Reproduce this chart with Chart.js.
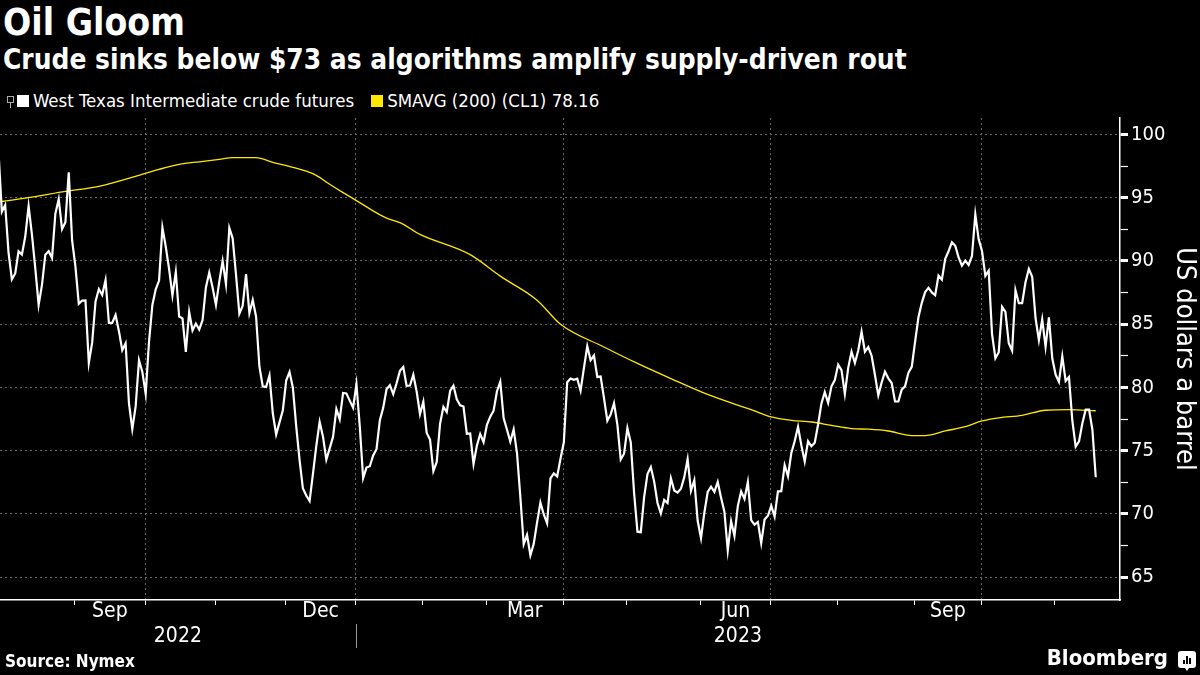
<!DOCTYPE html>
<html lang="en">
<head>
<meta charset="UTF-8" />
<title>Oil Gloom</title>
<script src="https://cdn.jsdelivr.net/npm/chart.js@4.4.0/dist/chart.umd.min.js"></script>
<style>
  body {
    margin: 0;
    width: 1200px;
    height: 675px;
    overflow: hidden;
    position: relative;
    background: #000;
    color: #fff;
    font-family: "DejaVu Sans Condensed", "DejaVu Sans", sans-serif;
  }
  #chart { position: absolute; left: 0; top: 0; }
  .title { position: absolute; left: 3px; top: 2px; font-size: 37px; font-weight: bold; line-height: 42px; }
  .subtitle { position: absolute; left: 3px; top: 44px; font-size: 27.8px; font-weight: bold; line-height: 32px; }
  .legend { position: absolute; left: 7px; top: 90px; font-size: 18.5px; line-height: 22px; display: flex; align-items: center; }
  .legend .pin { width: 5px; height: 5px; border: 1px solid #aaa; margin-right: 3px; position: relative; top: -2px; }
  .legend .pin:after { content: ""; position: absolute; left: 2px; top: 6px; width: 1px; height: 5px; background: #aaa; }
  .legend .box { width: 12px; height: 12px; margin-right: 4px; }
  .legend .item { display: flex; align-items: center; margin-right: 17px; }
  .source { position: absolute; left: 5px; top: 651px; font-size: 17px; font-weight: bold; line-height: 20px; }
  .brand { position: absolute; right: 4px; top: 645px; display: flex; align-items: center; font-size: 22px; font-weight: bold; line-height: 26px; }
  .brand .icon { width: 18px; height: 17px; background: #fff; border-radius: 3px; margin-left: 10px; position: relative; top: 1px; }
  .brand .icon:after { content: ""; position: absolute; left: 7px; bottom: -3px; border-left: 2px solid transparent; border-right: 2px solid transparent; border-top: 3px solid #fff; }
  .brand .icon i { position: absolute; bottom: 4px; width: 2px; background: #000; }
</style>
</head>
<body>
<div class="title">Oil Gloom</div>
<div class="subtitle">Crude sinks below $73 as algorithms amplify supply-driven rout</div>
<div class="legend">
  <span class="pin"></span>
  <span class="item"><span class="box" style="background:#ffffff"></span>West Texas Intermediate crude futures</span>
  <span class="item"><span class="box" style="background:#ffe900"></span>SMAVG (200) (CL1) 78.16</span>
</div>
<canvas id="chart" width="1200" height="675"></canvas>
<div class="source">Source: Nymex</div>
<div class="brand">Bloomberg<span class="icon"><i style="left:5px;height:4px"></i><i style="left:8px;height:8px"></i><i style="left:11px;height:6px"></i></span></div>

<script>
// trading sessions, month by month
const months = ["2022-07", "2022-08", "2022-09", "2022-10", "2022-11", "2022-12",
  "2023-01", "2023-02", "2023-03", "2023-04", "2023-05", "2023-06",
  "2023-07", "2023-08", "2023-09", "2023-10", "2023-11"];
const sessionDays = [
  [29],
  [1, 2, 3, 4, 5, 8, 9, 10, 11, 12, 15, 16, 17, 18, 19, 22, 23, 24, 25, 26, 29, 30, 31],
  [1, 2, 6, 7, 8, 9, 12, 13, 14, 15, 16, 19, 20, 21, 22, 23, 26, 27, 28, 29, 30],
  [3, 4, 5, 6, 7, 10, 11, 12, 13, 14, 17, 18, 19, 20, 21, 24, 25, 26, 27, 28, 31],
  [1, 2, 3, 4, 7, 8, 9, 10, 11, 14, 15, 16, 17, 18, 21, 22, 23, 25, 28, 29, 30],
  [1, 2, 5, 6, 7, 8, 9, 12, 13, 14, 15, 16, 19, 20, 21, 22, 23, 27, 28, 29, 30],
  [3, 4, 5, 6, 9, 10, 11, 12, 13, 17, 18, 19, 20, 23, 24, 25, 26, 27, 30, 31],
  [1, 2, 3, 6, 7, 8, 9, 10, 13, 14, 15, 16, 17, 21, 22, 23, 24, 27, 28],
  [1, 2, 3, 6, 7, 8, 9, 10, 13, 14, 15, 16, 17, 20, 21, 22, 23, 24, 27, 28, 29, 30, 31],
  [3, 4, 5, 6, 10, 11, 12, 13, 14, 17, 18, 19, 20, 21, 24, 25, 26, 27, 28],
  [1, 2, 3, 4, 5, 8, 9, 10, 11, 12, 15, 16, 17, 18, 19, 22, 23, 24, 25, 26, 30, 31],
  [1, 2, 5, 6, 7, 8, 9, 12, 13, 14, 15, 16, 20, 21, 22, 23, 26, 27, 28, 29, 30],
  [3, 5, 6, 7, 10, 11, 12, 13, 14, 17, 18, 19, 20, 21, 24, 25, 26, 27, 28, 31],
  [1, 2, 3, 4, 7, 8, 9, 10, 11, 14, 15, 16, 17, 18, 21, 22, 23, 24, 25, 28, 29, 30, 31],
  [1, 5, 6, 7, 8, 11, 12, 13, 14, 15, 18, 19, 20, 21, 22, 25, 26, 27, 28, 29],
  [2, 3, 4, 5, 6, 9, 10, 11, 12, 13, 16, 17, 18, 19, 20, 23, 24, 25, 26, 27, 30, 31],
  [1, 2, 3, 6, 7, 8, 9, 10, 13, 14, 15, 16]
];

// WTI settle, one value per session above
const wtiPrices = [
  98.62,
  93.89, 94.42, 90.66, 88.54, 89.01, 90.76, 90.50, 91.93, 94.34, 92.09, 89.41, 86.53, 88.11, 90.50, 90.77, 90.23, 93.74, 94.89, 92.52, 93.06, 97.01, 91.64, 89.55,
  86.61, 86.87, 86.88, 81.94, 83.54, 86.79, 87.78, 87.31, 88.48, 85.10, 85.11, 85.73, 84.45, 82.94, 83.49, 78.74, 76.71, 78.50, 82.15, 81.23, 79.49,
  83.63, 86.52, 87.76, 88.45, 92.64, 91.13, 89.35, 87.27, 89.11, 85.61, 85.46, 82.82, 85.98, 84.51, 85.05, 84.58, 85.32, 87.91, 89.08, 87.90, 86.53,
  88.37, 90.00, 88.17, 92.61, 91.79, 88.91, 85.83, 86.47, 88.96, 85.87, 86.92, 85.59, 81.64, 80.08, 80.04, 80.95, 77.94, 76.28, 77.24, 78.20, 80.55,
  81.22, 79.98, 76.93, 74.25, 72.01, 71.46, 71.02, 73.17, 75.39, 77.28, 76.11, 74.29, 75.19, 76.09, 78.29, 77.49, 79.56, 79.53, 78.96, 78.40, 80.26,
  76.93, 72.84, 73.67, 73.77, 74.63, 75.12, 77.41, 78.39, 79.86, 80.18, 79.48, 80.33, 81.31, 81.62, 80.13, 80.15, 81.01, 79.68, 77.90, 78.87,
  76.41, 75.88, 73.39, 74.11, 77.14, 78.47, 78.06, 79.72, 80.14, 79.06, 78.59, 78.49, 76.34, 76.36, 73.95, 75.39, 76.32, 75.68, 77.05,
  77.69, 78.16, 79.68, 80.46, 77.58, 76.66, 75.72, 76.68, 74.80, 71.33, 67.61, 68.35, 66.74, 67.64, 69.33, 70.90, 69.96, 69.26, 72.81, 73.20, 72.97, 74.37, 75.67,
  80.42, 80.71, 80.61, 80.70, 79.74, 81.53, 83.26, 82.16, 82.52, 80.83, 80.86, 79.16, 77.37, 77.87, 78.76, 77.07, 74.30, 74.76, 76.78,
  75.66, 71.66, 68.60, 68.56, 71.34, 73.16, 73.71, 72.56, 70.87, 70.04, 71.11, 70.86, 72.83, 71.86, 71.69, 71.99, 72.91, 74.34, 71.83, 72.67, 69.46, 68.09,
  70.10, 71.74, 72.15, 71.74, 72.53, 71.29, 70.17, 67.12, 69.42, 68.27, 70.62, 71.78, 71.19, 72.53, 69.51, 69.16, 69.37, 67.70, 69.56, 69.86, 70.64,
  69.79, 71.79, 71.80, 73.86, 72.99, 74.83, 75.75, 76.89, 75.42, 74.15, 75.75, 75.35, 75.63, 77.07, 78.74, 79.63, 78.78, 80.09, 80.58, 81.80,
  81.37, 79.49, 81.55, 82.82, 81.94, 82.92, 84.40, 82.82, 83.19, 82.51, 80.99, 79.38, 80.39, 81.25, 80.72, 80.35, 78.89, 78.89, 79.83, 80.10, 81.16, 81.63, 83.63,
  85.55, 86.69, 87.54, 87.87, 87.51, 87.29, 88.84, 88.52, 90.16, 90.77, 91.48, 91.20, 90.28, 89.63, 90.03, 89.68, 90.39, 93.68, 91.71, 90.79,
  88.82, 89.23, 84.22, 82.31, 82.79, 86.38, 85.97, 83.49, 82.91, 87.69, 86.66, 86.66, 88.32, 89.37, 88.75, 85.49, 83.74, 85.39, 83.21, 85.54, 82.31, 81.02,
  80.44, 82.46, 80.51, 80.82, 77.37, 75.33, 75.74, 77.17, 78.26, 78.26, 76.66, 72.90
];

// 200-day moving average at these sessions
const smaDates = ["2022-08-01", "2022-08-12", "2022-08-26", "2022-09-12", "2022-09-28", "2022-10-06",
  "2022-10-14", "2022-10-24", "2022-11-01", "2022-11-07", "2022-11-16", "2022-11-23", "2022-12-02",
  "2022-12-08", "2022-12-13", "2022-12-19", "2022-12-23", "2022-12-29", "2023-01-09", "2023-01-13",
  "2023-01-20", "2023-01-30", "2023-02-21", "2023-03-06", "2023-03-21", "2023-03-30", "2023-04-19",
  "2023-05-03", "2023-05-17", "2023-06-01", "2023-06-15", "2023-06-22", "2023-06-30", "2023-07-11",
  "2023-07-19", "2023-07-27", "2023-08-04", "2023-08-11", "2023-08-21", "2023-08-30", "2023-09-06",
  "2023-09-14", "2023-09-22", "2023-09-29", "2023-10-06", "2023-10-17", "2023-10-26", "2023-11-06",
  "2023-11-16"];
const smaValues = [94.70, 95.05, 95.50, 95.90, 96.77, 97.24,
  97.63, 97.84, 98.03, 98.16, 98.16, 97.80, 97.40,
  97.10, 96.77, 96.06, 95.40, 94.93, 93.96, 93.38,
  93.03, 92.10, 90.50, 88.80, 86.90, 85.00, 83.20,
  81.90, 80.70, 79.55, 78.60, 78.25, 77.67, 77.40,
  77.27, 77.00, 76.75, 76.70, 76.56, 76.20, 76.20,
  76.56, 76.90, 77.35, 77.60, 77.80, 78.20, 78.25,
  78.16];

const quarterMonths = ["2022-09", "2022-12", "2023-03", "2023-06", "2023-09"];
const quarterNames = ["Sep", "Dec", "Mar", "Jun", "Sep"];
const years = ["2022", "2023"];
const yMajorTicks = [65, 70, 75, 80, 85, 90, 95, 100];
const yAxisTitle = "US dollars a barrel";

// ---- build series on a session index (Bloomberg spaces sessions evenly)
const dates = [];
const firstIndex = {};
months.forEach((m, k) => {
  firstIndex[m] = dates.length;
  sessionDays[k].forEach(d => dates.push(m + "-" + String(d).padStart(2, "0")));
});
const indexOf = {};
dates.forEach((d, i) => { indexOf[d] = i; });

const wtiPoints = wtiPrices.map((v, i) => ({ x: i, y: v }));
const smaPoints = smaDates.map((d, i) => ({ x: indexOf[d], y: smaValues[i] }));

const xMin = 0.45, xMax = 335.25;
const boundary = m => firstIndex[m] - 1.2;

// x ticks: month boundaries (marks), quarter gridlines, month and year labels
const xTicks = [];
months.slice(1).forEach(m => {
  const v = boundary(m);
  if (v > xMin && v < xMax) {
    const mm = +m.slice(5);
    xTicks.push({ value: v, label: "", kind: [1, 4, 7, 10].includes(mm) ? "quarter" : "month" });
  }
});
quarterMonths.forEach((m, k) => {
  const next = months[months.indexOf(m) + 1];
  xTicks.push({ value: (boundary(m) + boundary(next)) / 2, label: quarterNames[k], kind: "label" });
});
const yearSplit = boundary("2023-01");
xTicks.push({ value: (xMin + yearSplit) / 2, label: ["", years[0]], kind: "label" });
xTicks.push({ value: (yearSplit + xMax) / 2, label: ["", years[1]], kind: "label" });
xTicks.sort((a, b) => a.value - b.value);

const yTicks = [];
yMajorTicks.forEach((v, i) => {
  yTicks.push(v);
  if (i < yMajorTicks.length - 1) yTicks.push(v + 2.5);
});

const family = '"DejaVu Sans Condensed", "DejaVu Sans", sans-serif';
const gridGrey = "#6a6a6a";

const yearDivider = {
  id: "yearDivider",
  afterDraw(chart) {
    const { ctx, chartArea, scales } = chart;
    const x = Math.round(scales.x.getPixelForValue(yearSplit)) + 0.5;
    ctx.save();
    ctx.strokeStyle = "#9a9a9a";
    ctx.lineWidth = 1;
    ctx.beginPath();
    ctx.moveTo(x, chartArea.bottom + 24);
    ctx.lineTo(x, chartArea.bottom + 48);
    ctx.stroke();
    ctx.restore();
  }
};

new Chart(document.getElementById("chart"), {
  type: "line",
  data: {
    datasets: [
      {
        label: "West Texas Intermediate crude futures",
        data: wtiPoints,
        borderColor: "#ffffff",
        backgroundColor: "#ffffff",
        borderWidth: 2.2,
        pointRadius: 0,
        tension: 0
      },
      {
        label: "SMAVG (200) (CL1) 78.16",
        data: smaPoints,
        borderColor: "#ffe900",
        backgroundColor: "#ffe900",
        borderWidth: 1.3,
        pointRadius: 0,
        cubicInterpolationMode: "monotone"
      }
    ]
  },
  options: {
    responsive: false,
    animation: false,
    devicePixelRatio: 1,
    layout: { padding: { top: 118, bottom: 13, left: 0, right: 0 } },
    plugins: {
      legend: { display: false },
      tooltip: { enabled: false }
    },
    scales: {
      x: {
        type: "linear",
        min: xMin,
        max: xMax,
        afterBuildTicks: s => { s.ticks = xTicks.map(t => ({ value: t.value })); },
        afterFit: s => { s.height = 62; },
        ticks: {
          autoSkip: false,
          maxRotation: 0,
          color: "#ffffff",
          padding: -6,
          font: { family: family, size: 21, lineHeight: 1.2 },
          callback: (v, i) => xTicks[i] ? xTicks[i].label : ""
        },
        grid: {
          color: c => (c.index !== undefined && xTicks[c.index] && xTicks[c.index].kind === "quarter") ? gridGrey : "rgba(0,0,0,0)",
          tickColor: c => (c.index !== undefined && xTicks[c.index] && xTicks[c.index].kind === "label") ? "rgba(0,0,0,0)" : "#ffffff",
          tickLength: 5,
          lineWidth: 1
        },
        border: { color: "#ffffff", width: 1.5, dash: [2, 3] }
      },
      y: {
        position: "right",
        min: 63.2,
        max: 101.3,
        afterBuildTicks: s => { s.ticks = yTicks.map(v => ({ value: v })); },
        afterFit: s => { s.width = 80; },
        ticks: {
          color: "#ffffff",
          padding: 3,
          font: { family: family, size: 20 },
          callback: v => (v % 5 === 0 ? String(v) : "")
        },
        grid: {
          color: c => (c.tick && c.tick.value % 5 === 0) ? gridGrey : "rgba(0,0,0,0)",
          tickColor: "#ffffff",
          tickLength: 8,
          tickWidth: c => (c.tick && c.tick.value % 5 === 0) ? 3 : 1.2,
          lineWidth: 1
        },
        border: { color: "#ffffff", width: 1.5, dash: [2, 3] },
        title: {
          display: true,
          text: yAxisTitle,
          color: "#ffffff",
          padding: 0,
          font: { family: family, size: 27 }
        }
      }
    }
  },
  plugins: [yearDivider]
});
</script>
</body>
</html>
